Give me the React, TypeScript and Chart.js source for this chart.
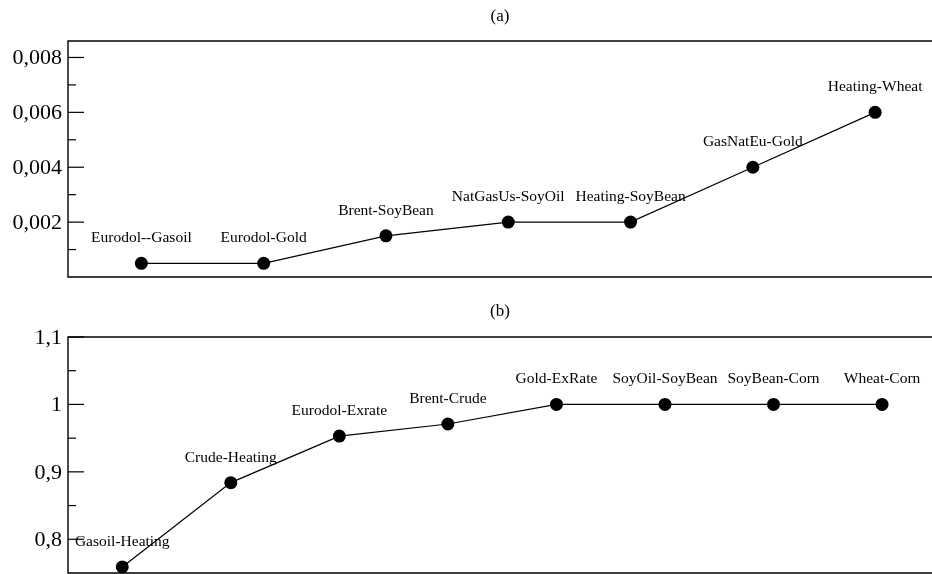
import React, { useEffect, useRef } from "react";
import { Chart, registerables } from "chart.js";
Chart.register(...registerables);

// ---- data ----
const topCategories = [
  "Eurodol--Gasoil",
  "Eurodol-Gold",
  "Brent-SoyBean",
  "NatGasUs-SoyOil",
  "Heating-SoyBean",
  "GasNatEu-Gold",
  "Heating-Wheat",
];
const topValues = [0.0005, 0.0005, 0.0015, 0.002, 0.002, 0.004, 0.006];
const topTickValues = [0.002, 0.004, 0.006, 0.008];
const topTickLabels = ["0,002", "0,004", "0,006", "0,008"];
const topMinorTicks = [0.001, 0.003, 0.005, 0.007];

const bottomCategories = [
  "Gasoil-Heating",
  "Crude-Heating",
  "Eurodol-Exrate",
  "Brent-Crude",
  "Gold-ExRate",
  "SoyOil-SoyBean",
  "SoyBean-Corn",
  "Wheat-Corn",
];
const bottomValues = [0.759, 0.884, 0.953, 0.971, 1, 1, 1, 1];
const bottomTickValues = [0.8, 0.9, 1, 1.1];
const bottomTickLabels = ["0,8", "0,9", "1", "1,1"];
const bottomMinorTicks = [0.85, 0.95, 1.05];

const topTitle = "(a)";
const bottomTitle = "(b)";

const topYRange = [0, 0.0086];
const bottomYRange = [0.75, 1.1];

const FONT = '"Liberation Serif", "Times New Roman", serif';

type PanelCfg = {
  categories: string[];
  values: number[];
  title: string;
  yRange: number[];
  tickValues: number[];
  tickLabels: string[];
  minorTicks: number[];
  xMin: number;
  xMax: number;
  top: number;
  height: number;
  padTop: number;
  padBottom: number;
  titleY: number;
};

function Panel({ cfg }: { cfg: PanelCfg }) {
  const ref = useRef<HTMLCanvasElement>(null);
  useEffect(() => {
    const [yMin, yMax] = cfg.yRange;
    const decorPlugin = {
      id: "decor",
      beforeDatasetsDraw(chart: any) {
        const { ctx, chartArea: a } = chart;
        const ys = chart.scales.y;
        ctx.save();
        ctx.strokeStyle = "#000";
        ctx.lineWidth = 1.4;
        ctx.beginPath();
        ctx.moveTo(a.right + 2, a.top);
        ctx.lineTo(a.left, a.top);
        ctx.lineTo(a.left, a.bottom);
        ctx.lineTo(a.right + 2, a.bottom);
        ctx.stroke();
        // inward tick marks
        ctx.lineWidth = 1.2;
        const mark = (v: number, len: number) => {
          const py = ys.getPixelForValue(v);
          ctx.beginPath();
          ctx.moveTo(a.left, py);
          ctx.lineTo(a.left + len, py);
          ctx.stroke();
        };
        cfg.tickValues.forEach((v) => mark(v, 16));
        cfg.minorTicks.forEach((v) => mark(v, 8));
        // tick labels
        ctx.fillStyle = "#000";
        ctx.font = `22px ${FONT}`;
        ctx.textAlign = "right";
        ctx.textBaseline = "middle";
        cfg.tickValues.forEach((v, i) => {
          ctx.fillText(cfg.tickLabels[i], a.left - 6, ys.getPixelForValue(v) + 1);
        });
        ctx.restore();
      },
      afterDatasetsDraw(chart: any) {
        const { ctx, chartArea: a } = chart;
        const meta = chart.getDatasetMeta(0);
        ctx.save();
        ctx.fillStyle = "#000";
        ctx.font = `15.5px ${FONT}`;
        ctx.textAlign = "center";
        ctx.textBaseline = "alphabetic";
        meta.data.forEach((el: any, i: number) => {
          ctx.fillText(cfg.categories[i], el.x, el.y - 21);
        });
        ctx.font = `17px ${FONT}`;
        ctx.textBaseline = "middle";
        ctx.fillText(cfg.title, (a.left + a.right) / 2, cfg.titleY);
        ctx.restore();
      },
    };

    const chart = new Chart(ref.current!, {
      type: "line",
      data: {
        datasets: [
          {
            data: cfg.categories.map((_, i) => ({ x: i + 1, y: cfg.values[i] })),
            borderColor: "#000",
            borderWidth: 1.2,
            pointRadius: 6.5,
            pointBackgroundColor: "#000",
            pointBorderColor: "#000",
            pointBorderWidth: 0,
            clip: false as any,
            tension: 0,
          },
        ],
      },
      options: {
        animation: false,
        responsive: true,
        maintainAspectRatio: false,
        events: [],
        layout: {
          autoPadding: false,
          padding: { top: cfg.padTop, bottom: cfg.padBottom, left: 0, right: 0 },
        },
        plugins: {
          legend: { display: false },
          tooltip: { enabled: false },
          title: { display: false },
        },
        scales: {
          x: { type: "linear", min: cfg.xMin, max: cfg.xMax, display: false },
          y: {
            type: "linear",
            min: yMin,
            max: yMax,
            grid: { display: false, drawTicks: false },
            border: { display: false },
            ticks: { display: false },
            afterFit: (s: any) => {
              s.width = 68;
              s.paddingTop = 0;
              s.paddingBottom = 0;
            },
          },
        },
      } as any,
      plugins: [decorPlugin],
    });
    return () => chart.destroy();
  }, []);
  return (
    <div style={{ position: "absolute", left: 0, top: cfg.top, width: 932, height: cfg.height }}>
      <canvas ref={ref} />
    </div>
  );
}

export default function App() {
  const topCfg: PanelCfg = {
    categories: topCategories,
    values: topValues,
    title: topTitle,
    yRange: topYRange,
    tickValues: topTickValues,
    tickLabels: topTickLabels,
    minorTicks: topMinorTicks,
    xMin: 0.4,
    xMax: 7.465,
    top: 0,
    height: 290,
    padTop: 41,
    padBottom: 13,
    titleY: 16.5,
  };
  const bottomCfg: PanelCfg = {
    categories: bottomCategories,
    values: bottomValues,
    title: bottomTitle,
    yRange: bottomYRange,
    tickValues: bottomTickValues,
    tickLabels: bottomTickLabels,
    minorTicks: bottomMinorTicks,
    xMin: 0.5,
    xMax: 8.46,
    top: 290,
    height: 284,
    padTop: 47,
    padBottom: 1,
    titleY: 21.5,
  };
  return (
    <div style={{ position: "absolute", left: 0, top: 0, width: 932, height: 574, background: "#fff", overflow: "hidden" }}>
      <Panel cfg={topCfg} />
      <Panel cfg={bottomCfg} />
    </div>
  );
}
